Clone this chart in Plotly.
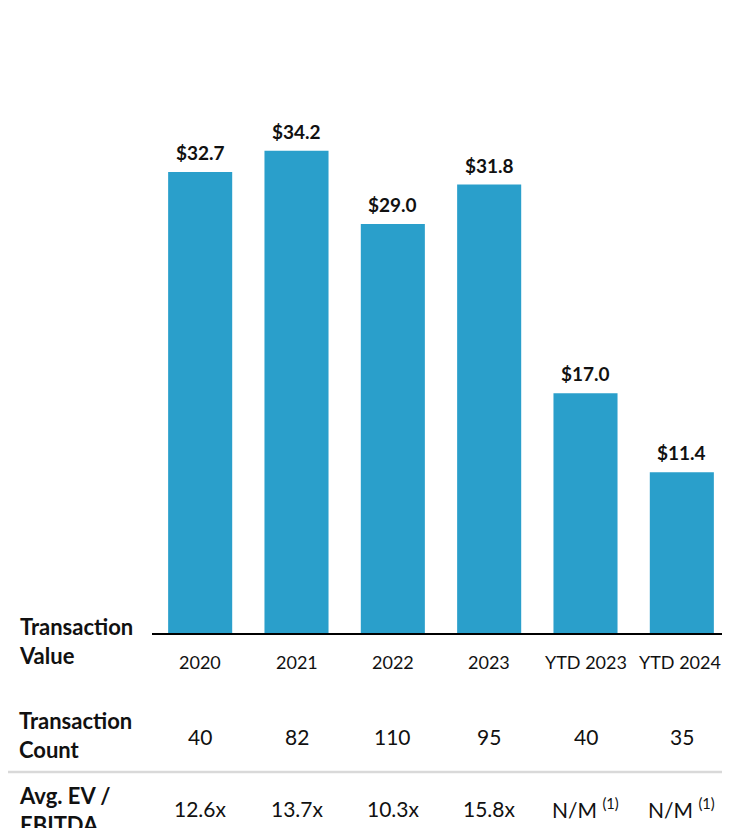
import plotly.graph_objects as go

categories = ["2020", "2021", "2022", "2023", "YTD 2023", "YTD 2024"]
transaction_value = [32.7, 34.2, 29.0, 31.8, 17.0, 11.4]
value_labels = ["$32.7", "$34.2", "$29.0", "$31.8", "$17.0", "$11.4"]
transaction_count = ["40", "82", "110", "95", "40", "35"]
ev_ebitda = ["12.6x", "13.7x", "10.3x", "15.8x", "N/M <sup>(1)</sup>", "N/M <sup>(1)</sup>"]
row_labels = ["Transaction<br>Value", "Transaction<br>Count", "Avg. EV /<br>EBITDA"]

OFF = 8  # page body margin offset
W, H = 730, 828
L = 152 - OFF
PW = 578
R = W - L - PW
T = 69 - OFF
PH = 564
B = H - T - PH
FONT = "Lato"
BLUE = "#2A9FCB"
TXT = "#111111"


def px(x):
    return (x - OFF - L) / PW


def py(y):
    return (T + PH - (y - OFF)) / PH


idx = list(range(len(categories)))

fig = go.Figure()
fig.add_trace(go.Bar(
    x=idx, y=transaction_value,
    marker=dict(color=BLUE, line=dict(width=0)),
    hoverinfo="skip",
))

ann = []
for i, v, t in zip(idx, transaction_value, value_labels):
    ann.append(dict(x=i, xref="x", y=v, yref="y", text=t, showarrow=False,
                    yanchor="bottom", yshift=6,
                    font=dict(family=FONT, size=19, color=TXT, weight="bold")))
for i, c in zip(idx, categories):
    ann.append(dict(x=i, xref="x", y=py(662), yref="paper", text=c, showarrow=False,
                    xshift=(-2 if i == len(categories) - 1 else 0),
                    font=dict(family=FONT, size=18, color=TXT), yanchor="middle"))
for i, v in zip(idx, transaction_count):
    ann.append(dict(x=i, xref="x", y=py(736), yref="paper", text=v, showarrow=False,
                    font=dict(family=FONT, size=21, color=TXT), yanchor="middle"))
for i, v in zip(idx, ev_ebitda):
    ann.append(dict(x=i, xref="x", y=py(808), yref="paper", text=v, showarrow=False,
                    font=dict(family=FONT, size=21, color=TXT), yanchor="middle"))
for lbl, yy in zip(row_labels, [641, 735, 810]):
    ann.append(dict(x=px(17), xref="paper", y=py(yy), yref="paper", text=lbl, showarrow=False,
                    align="left", xanchor="left", yanchor="middle",
                    font=dict(family=FONT, size=22, color=TXT, weight="bold")))

fig.update_layout(
    width=W, height=H,
    margin=dict(l=L, r=R, t=T, b=B, autoexpand=False),
    paper_bgcolor="white", plot_bgcolor="white",
    showlegend=False,
    bargap=0.335,
    annotations=ann,
    shapes=[dict(type="line", xref="paper", yref="paper",
                 x0=px(3), x1=px(730), y0=py(772), y1=py(772),
                 line=dict(color="#D9D9D9", width=2.5))],
    xaxis=dict(range=[-0.5, len(categories) - 0.5], showticklabels=False, ticks="",
               showgrid=False, zeroline=False,
               showline=True, linecolor="black", linewidth=2, fixedrange=True),
    yaxis=dict(range=[0, 40], visible=False, showgrid=False, zeroline=False),
)

fig.write_html("out.html")
